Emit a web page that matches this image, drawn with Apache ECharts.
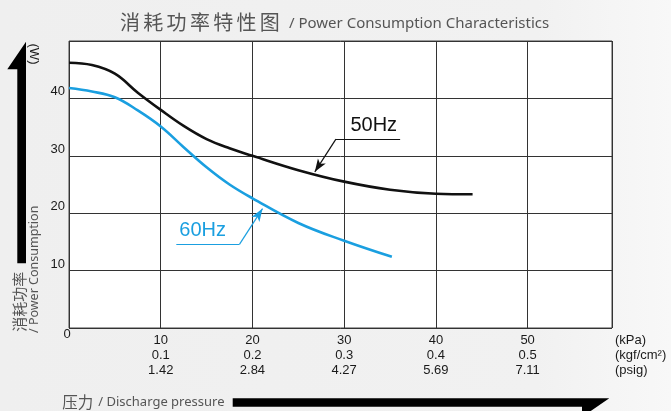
<!DOCTYPE html>
<html><head><meta charset="utf-8">
<script src="https://cdn.jsdelivr.net/npm/echarts@6/dist/echarts.min.js"></script>
<style>html,body{margin:0;padding:0;background:#f0f0f0}#c{width:671px;height:411px}</style>
</head><body><div id="c"></div>
<script>
// ---- data ----
const xTicks = [10, 20, 30, 40, 50];                       // kPa
const kgfLabels = ['0.1', '0.2', '0.3', '0.4', '0.5'];     // kgf/cm2
const psigLabels = ['1.42', '2.84', '4.27', '5.69', '7.11'];// psig
const yTicks = [10, 20, 30, 40];                           // W
const unitLabels = ['(kPa)', '(kgf/cm²)', '(psig)'];

const p50 = [0, 2.5, 5, 7.5, 10, 12.5, 15, 17.5, 20, 25, 30, 35, 40, 44];
const w50 = [46.2, 45.8, 44.3, 41.0, 38.0, 35.2, 32.9, 31.3, 30.0, 27.5, 25.5, 24.1, 23.4, 23.3];
const p60 = [0, 2.5, 5, 7.5, 10, 12.5, 15, 17.5, 20, 25, 30, 35.2];
const w60 = [41.8, 41.2, 40.2, 37.9, 35.1, 31.5, 28.0, 25.0, 22.6, 18.3, 15.2, 12.4];

const seriesNames = ['50Hz', '60Hz'];

// ---- chart ----
const chart = echarts.init(document.getElementById('c'), null, {renderer: 'canvas'});
const GRAY = '#555';
const BLACK = '#111';
const BLUE = '#1a9fe0';
const NUMFONT = 'Liberation Sans, Arial, sans-serif';

function annot(text, color, tip, elbow, lineA, lineB, pos) {
  return {
    silent: true, animation: false,
    symbol: ['none', 'none'],
    lineStyle: {type: 'solid', color: color, width: 1.2},
    label: {show: false},
    emphasis: {disabled: true},
    data: [
      [{coord: tip, symbol: 'arrow', symbolSize: [7, 13]}, {coord: elbow}],
      [{coord: lineA}, {coord: lineB, label: {show: true, formatter: text, position: pos,
        distance: [3, 4], color: color, fontSize: 20, fontFamily: NUMFONT}}]
    ]
  };
}

const chars = '消耗功率特性图'.split('');
const option = {
  animation: false,
  backgroundColor: {type: 'linear', x: 0, y: 0, x2: 1, y2: 0,
    colorStops: [{offset: 0, color: '#efefef'}, {offset: 0.8, color: '#f1f1f1'}, {offset: 1, color: '#f8f8f8'}]},
  grid: {left: 69, right: 59, top: 41, bottom: 83, show: true, backgroundColor: '#fff',
    borderColor: '#444', borderWidth: 1},
  xAxis: {
    type: 'value', min: 0, max: 59.2, interval: 10,
    axisLine: {show: false}, axisTick: {show: false},
    splitLine: {show: true, lineStyle: {color: '#333', width: 1}},
    axisLabel: {
      showMaxLabel: false, showMinLabel: false,
      formatter: v => {
        const i = xTicks.indexOf(v);
        return i < 0 ? '' : v + '\n' + kgfLabels[i] + '\n' + psigLabels[i];
      },
      fontSize: 13, lineHeight: 15, margin: 5, color: '#1a1a1a', fontFamily: NUMFONT
    }
  },
  yAxis: {
    type: 'value', min: 0, max: 50, interval: 10,
    axisLine: {show: false}, axisTick: {show: false},
    splitLine: {show: true, lineStyle: {color: '#333', width: 1}},
    axisLabel: {
      formatter: v => yTicks.indexOf(v) < 0 ? '' : String(v),
      verticalAlign: 'bottom', margin: 4, fontSize: 13, color: '#1a1a1a', fontFamily: NUMFONT
    }
  },
  series: [
    {name: seriesNames[0], type: 'line', data: p50.map((x, i) => [x, w50[i]]),
      smooth: 0.4, symbol: 'none', lineStyle: {color: BLACK, width: 2.6},
      markLine: annot(seriesNames[0], BLACK, [26.8, 27.2], [29.1, 32.9], [29.1, 32.9], [36.1, 32.9], 'insideEndTop')},
    {name: seriesNames[1], type: 'line', data: p60.map((x, i) => [x, w60[i]]),
      smooth: 0.4, symbol: 'none', lineStyle: {color: BLUE, width: 2.6},
      markLine: annot(seriesNames[1], BLUE, [21.1, 20.8], [18.6, 14.6], [11.7, 14.6], [18.6, 14.6], 'insideStartTop')}
  ],
  graphic: [
    // title
    {type: 'text', x: 120, y: 22.5, style: {
      text: chars.map(c => '{c|' + c + '}').join(''),
      rich: {c: {fontSize: 20, fontFamily: 'Noto Sans CJK SC', fill: GRAY, padding: [0, 3.3, 0, 0]}},
      verticalAlign: 'middle', align: 'left'}},
    {type: 'text', x: 289, y: 23.5, style: {text: '/ Power Consumption Characteristics',
      font: '15px "Noto Sans"', fill: GRAY, verticalAlign: 'middle', align: 'left'}},
    // vertical arrow
    {type: 'polygon', shape: {points: [[17.3, 263.3], [17.3, 69.3], [7.3, 69.3], [26, 41.7], [26, 263.3]]},
      style: {fill: '#000'}},
    // horizontal arrow
    {type: 'polygon', shape: {points: [[232.7, 398.3], [609.3, 398.3], [582, 417], [582, 406.7], [232.7, 406.7]]},
      style: {fill: '#000'}},
    // y axis unit
    {type: 'text', x: 33.3, y: 54, rotation: -Math.PI / 2, style: {text: '(W)',
      font: '13px ' + NUMFONT, fill: '#1a1a1a', align: 'center', verticalAlign: 'middle'}},
    // y axis title (rotated)
    {type: 'text', x: 19, y: 331.7, rotation: Math.PI / 2, style: {text: '消耗功率',
      font: '15px "Noto Sans CJK SC"', fill: GRAY, align: 'left', verticalAlign: 'middle'}},
    {type: 'text', x: 34, y: 333, rotation: Math.PI / 2, style: {text: '/ Power Consumption',
      font: '12.5px "Noto Sans"', fill: GRAY, align: 'left', verticalAlign: 'middle'}},
    // x axis title
    {type: 'text', x: 62.3, y: 401.7, style: {text: '压力',
      font: '15.5px "Noto Sans CJK SC"', fill: GRAY, align: 'left', verticalAlign: 'middle'}},
    {type: 'text', x: 98.3, y: 402, style: {text: '/ Discharge pressure',
      font: '13px "Noto Sans"', fill: GRAY, align: 'left', verticalAlign: 'middle'}},
    // origin label
    {type: 'text', x: 67, y: 334.5, style: {text: '0',
      font: '13px ' + NUMFONT, fill: '#1a1a1a', align: 'center', verticalAlign: 'middle'}},
    // unit labels
    {type: 'text', x: 615, y: 333, style: {text: unitLabels.join('\n'), lineHeight: 15,
      font: '13px ' + NUMFONT, fill: '#1a1a1a', align: 'left', verticalAlign: 'top'}}
  ]
};
chart.setOption(option);
</script>
</body></html>
